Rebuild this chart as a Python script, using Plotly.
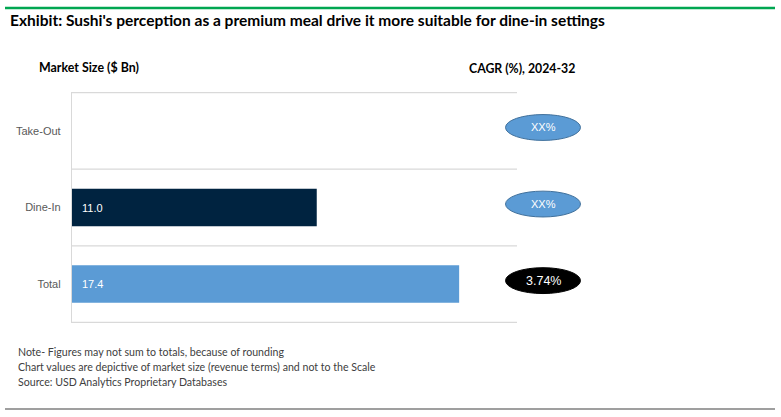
import plotly.graph_objects as go

categories = ["Take-Out", "Dine-In", "Total"]
market_size = [None, 11.0, 17.4]
bar_colors = ["#5B9BD5", "#002340", "#5B9BD5"]
cagr_labels = ["XX%", "XX%", "3.74%"]
cagr_fills = ["#5B9BD5", "#5B9BD5", "#000000"]
cagr_lines = ["#41719C", "#41719C", "#000000"]

title = "Exhibit: Sushi's perception as a premium meal drive it more suitable for dine-in settings"
notes = [
    "Note- Figures may not sum to totals, because of rounding",
    "Chart values are depictive of market size (revenue terms) and not to the Scale",
    "Source: USD Analytics Proprietary Databases",
]

W, H = 781, 417
L, R, T, B = 72, 264, 92, 94
XMAX = 20.0
plot_w = W - L - R
ph = H - T - B


def py(y):
    return 1 - (y - T) / ph


def pxp(x):
    return (x - L) / plot_w


fig = go.Figure()
fig.add_trace(go.Bar(
    y=categories, x=market_size, orientation="h",
    marker=dict(color=bar_colors, line=dict(width=0)),
    width=0.49, hoverinfo="skip",
))

shapes = []
annotations = []
# category separator gridlines
for b in [-0.5, 0.5, 1.5, 2.5]:
    shapes.append(dict(type="line", xref="x", yref="y", x0=0, x1=XMAX, y0=b, y1=b,
                       line=dict(color="#D9D9D9", width=1.3), layer="below"))

# value labels inside bars
for c, v in zip(categories, market_size):
    if v is not None:
        annotations.append(dict(x=0, y=c, xref="x", yref="y", text=f"{v:.1f}", showarrow=False,
                                xanchor="left", xshift=8,
                                font=dict(color="white", size=11, family="Liberation Sans")))

# CAGR ellipses (slightly above category centres, as in the reference)
cxp = pxp(543)
hwp = 37.5 / plot_w
hh = 13 / 77.0
off = 0.045
for i, (lab, fc, lc) in enumerate(zip(cagr_labels, cagr_fills, cagr_lines)):
    shapes.append(dict(type="circle", xref="paper", yref="y", x0=cxp - hwp, x1=cxp + hwp,
                       y0=i - off - hh, y1=i - off + hh, fillcolor=fc, line=dict(color=lc, width=1)))
    annotations.append(dict(x=cxp, y=i - off, xref="paper", yref="y", text=lab, showarrow=False,
                            xanchor="center", yanchor="middle",
                            font=dict(color="white", size=11 if fc != "#000000" else 12.5,
                                      family="Liberation Sans")))

# top green and bottom gray rules
shapes.append(dict(type="line", xref="paper", yref="paper",
                   x0=pxp(5), x1=pxp(775), y0=py(8), y1=py(8),
                   line=dict(color="#00A651", width=2.5)))
shapes.append(dict(type="line", xref="paper", yref="paper",
                   x0=pxp(5), x1=pxp(775), y0=py(409), y1=py(409),
                   line=dict(color="#7F7F7F", width=1.3)))

annotations.append(dict(text=f"<b>{title}</b>", x=pxp(8), y=py(20), xref="paper", yref="paper",
                        xanchor="left", yanchor="middle", showarrow=False,
                        font=dict(size=15.5, color="#000000", family="Lato")))
annotations.append(dict(text="<b>Market Size ($ Bn)</b>", x=pxp(37), y=py(67), xref="paper", yref="paper",
                        xanchor="left", yanchor="middle", showarrow=False,
                        font=dict(size=12.4, color="#000000", family="Lato")))
annotations.append(dict(text="<b>CAGR (%), 2024-32</b>", x=pxp(522), y=py(69), xref="paper", yref="paper",
                        xanchor="center", yanchor="middle", showarrow=False,
                        font=dict(size=12.3, color="#000000", family="Lato")))
for k, n in enumerate(notes):
    annotations.append(dict(text=n, x=pxp(16), y=py(352 + 15 * k), xref="paper", yref="paper",
                            xanchor="left", yanchor="middle", showarrow=False,
                            font=dict(size=10.6, color="#404040", family="Lato")))

fig.update_layout(
    width=W, height=H, margin=dict(l=L, r=R, t=T, b=B),
    paper_bgcolor="white", plot_bgcolor="white",
    showlegend=False, shapes=shapes, annotations=annotations,
    xaxis=dict(range=[0, XMAX], visible=False, fixedrange=True),
    yaxis=dict(autorange="reversed", showgrid=False, zeroline=False,
               showline=True, linecolor="#D9D9D9", linewidth=1.3,
               ticks="", ticklabelstandoff=8,
               tickfont=dict(size=11, color="#595959", family="Liberation Sans")),
    bargap=0.5,
)

fig.write_html("out.html")
